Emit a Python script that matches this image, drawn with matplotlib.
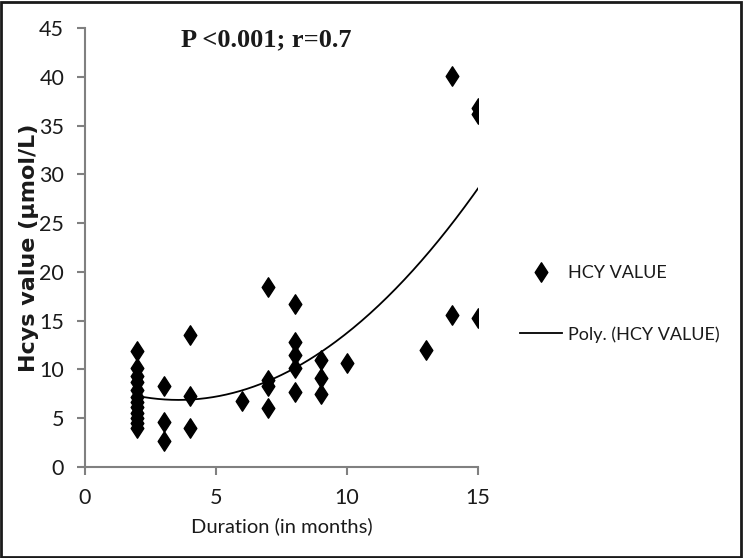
import numpy as np
import matplotlib.pyplot as plt
from matplotlib.path import Path
from matplotlib.patches import Rectangle

# duration (months) and homocysteine values
duration = [2]*12 + [3]*3 + [4]*3 + [6] + [7]*4 + [8]*5 + [9]*3 + [10] + [13] + [14]*2 + [15]*3
hcy = [11.9, 10.1, 9.3, 8.7, 7.9, 7.2, 6.7, 6.1, 5.5, 5.0, 4.5, 4.0,
       8.3, 4.6, 2.7,
       13.5, 7.3, 4.0,
       6.8,
       18.5, 8.9, 8.3, 6.0,
       16.7, 12.8, 11.5, 10.1, 7.7,
       11.0, 9.1, 7.5,
       10.7,
       12.0,
       40.1, 15.6,
       36.8, 36.2, 15.3]
x_ticks = [0, 5, 10, 15]
y_ticks = [0, 5, 10, 15, 20, 25, 30, 35, 40, 45]

duration = np.array(duration, dtype=float)
hcy = np.array(hcy)

# 2nd order trend line like excel "Poly."
coef = np.polyfit(duration, hcy, 2)
xf = np.linspace(duration.min(), duration.max(), 200)
yf = np.polyval(coef, xf)

sans = ['Lato', 'DejaVu Sans']

# narrow diamond marker
diamond = Path([(0, 1), (0.65, 0), (0, -1), (-0.65, 0), (0, 1)],
               [Path.MOVETO, Path.LINETO, Path.LINETO, Path.LINETO, Path.CLOSEPOLY])

fig = plt.figure(figsize=(7.43, 5.58), dpi=100)
ax = fig.add_axes([0.1144, 0.1631, 0.6433 - 0.1144, 0.9498 - 0.1631])

ax.plot(duration, hcy, linestyle='none', marker=diamond, markersize=14,
        color='black', label='HCY VALUE')
ax.plot(xf, yf, color='black', linewidth=1.3, label='Poly. (HCY VALUE)')

ax.set_xlim(0, 15)
ax.set_ylim(0, 45)
ax.set_xticks(x_ticks)
ax.set_yticks(y_ticks)
for s in ['top', 'right']:
    ax.spines[s].set_visible(False)
for s in ['left', 'bottom']:
    ax.spines[s].set_color('#808080')
    ax.spines[s].set_linewidth(1.5)
ax.tick_params(axis='both', direction='out', length=6, width=1.5, color='#808080',
               labelsize=15.5, labelcolor='#1a1a1a')
ax.tick_params(axis='y', pad=9)
ax.tick_params(axis='x', pad=9)
for lab in ax.get_xticklabels() + ax.get_yticklabels():
    lab.set_family(sans)

ax.set_xlabel('Duration (in months)', family=sans, fontsize=14.5, color='#1a1a1a', labelpad=7)
ax.set_ylabel('Hcys value (µmol/L)', family='DejaVu Sans', fontweight='bold',
              fontsize=16, color='#1a1a1a', labelpad=0)

fig.text(0.359, 0.928, 'P <0.001; r=0.7', family='Liberation Serif', fontweight='bold',
         fontsize=19, ha='center', va='center', color='#1a1a1a')

leg = ax.legend(loc='upper left', bbox_to_anchor=(520 / 743, 1 - 265 / 558),
                bbox_transform=fig.transFigure, frameon=False, borderpad=0,
                borderaxespad=0, handlelength=2.3, handletextpad=0.35,
                labelspacing=2.5, prop={'family': sans, 'size': 13})
for t in leg.get_texts():
    t.set_color('#1a1a1a')

# image border
fig.patches.append(Rectangle((0.001, 0.002), 0.996, 0.995, transform=fig.transFigure,
                             fill=False, edgecolor='#1a1a1a', linewidth=2))

fig.savefig('out.png', dpi=100)
